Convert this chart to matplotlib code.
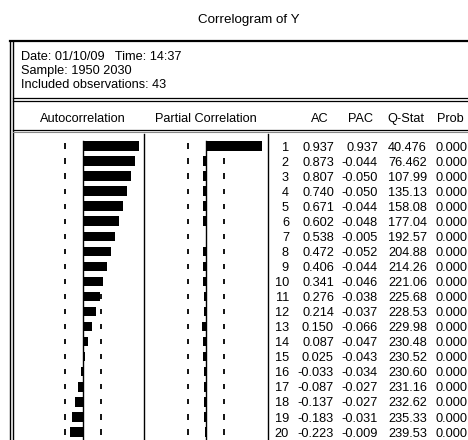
"""
correlogram_y.py

EViews-style correlogram table for series Y: AC / PAC bar columns with
+/- 2 s.e. markers, followed by the AC, PAC, Q-Stat and Prob columns.

Output:
  out.png
"""

import numpy as np
import matplotlib.pyplot as plt

# --- data ----------------------------------------------------------------

LAGS = list(range(1, 21))
AC = [0.937, 0.873, 0.807, 0.740, 0.671, 0.602, 0.538, 0.472, 0.406, 0.341,
      0.276, 0.214, 0.150, 0.087, 0.025, -0.033, -0.087, -0.137, -0.183, -0.223]
PAC = [0.937, -0.044, -0.050, -0.050, -0.044, -0.048, -0.005, -0.052, -0.044, -0.046,
       -0.038, -0.037, -0.066, -0.047, -0.043, -0.034, -0.027, -0.027, -0.031, -0.009]
QSTAT = [40.476, 76.462, 107.99, 135.13, 158.08, 177.04, 192.57, 204.88, 214.26, 221.06,
         225.68, 228.53, 229.98, 230.48, 230.52, 230.60, 231.16, 232.62, 235.33, 239.53]
PROB = [0.000] * 20

N_OBS = 43
HEADER_LINES = [
    "Date: 01/10/09   Time: 14:37",
    "Sample: 1950 2030",
    "Included observations: 43",
]
COLUMNS = ["AC", "PAC", "Q-Stat", "Prob"]

# --- layout (pixel space) -------------------------------------------------

W, H = 468, 440
FONT = "Liberation Sans"
FS = 9.2
ROW0, ROW_STEP = 146.0, 15.05
SCALE = 60.0            # px per unit of correlation
AC_ZERO, PAC_ZERO = 83.0, 206.0
DIV1, DIV2 = 144.0, 268.0
BAR_H = 9.5

# right edges of the numeric columns: lag, AC, PAC, Q-Stat, Prob
COL_X = [289, 334, 378, 427, 467]


def fmt_q(v: float) -> str:
    return f"{v:.3f}" if v < 100 else f"{v:.2f}"


def txt(ax, x, y, s, ha="left", size=FS):
    # y is the vertical centre of the row; shift to baseline by half cap height
    ax.text(x, y + 0.36 * size * 100 / 72, s, ha=ha, va="baseline",
            fontsize=size, family=FONT, color="black")


def main() -> None:
    fig = plt.figure(figsize=(W / 100, H / 100), dpi=100)
    ax = fig.add_axes([0, 0, 1, 1])
    ax.set_xlim(0, W)
    ax.set_ylim(H, 0)
    ax.axis("off")

    txt(ax, 249, 18, "Correlogram of Y", ha="center", size=9.6)

    # frame
    ax.plot([10, W], [41, 41], c="black", lw=1.6)
    ax.plot([10, 10], [41, H], c="black", lw=1.0)
    ax.plot([12.7, 12.7], [41, H], c="black", lw=1.0)
    for yy in (98, 101):
        ax.plot([12.7, W], [yy, yy], c="black", lw=0.9)
    ax.plot([12.7, W], [130, 130], c="black", lw=0.9)
    ax.plot([12.7, W], [132.5, 132.5], c="#888888", lw=0.8)

    for i, line in enumerate(HEADER_LINES):
        txt(ax, 21, 55 + 14.2 * i, line)

    hy = 117
    txt(ax, AC_ZERO, hy, "Autocorrelation", ha="center")
    txt(ax, PAC_ZERO, hy, "Partial Correlation", ha="center")
    txt(ax, 329, hy, COLUMNS[0], ha="right")
    txt(ax, 373, hy, COLUMNS[1], ha="right")
    txt(ax, 424, hy, COLUMNS[2], ha="right")
    txt(ax, 437, hy, COLUMNS[3], ha="left")

    rows = ROW0 + ROW_STEP * (np.array(LAGS) - 1)
    band = 2 / np.sqrt(N_OBS) * SCALE

    # column dividers and zero lines
    ax.plot([DIV1, DIV1], [134, H], c="black", lw=1.0)
    ax.plot([DIV2, DIV2], [134, H], c="black", lw=1.0)
    ax.plot([AC_ZERO, AC_ZERO], [rows[0] - BAR_H / 2, H], c="black", lw=1.0)
    ax.plot([PAC_ZERO, PAC_ZERO], [rows[0] - BAR_H / 2, H], c="black", lw=1.0)

    # +/- 2 s.e. markers, one short tick per row
    for zero in (AC_ZERO, PAC_ZERO):
        for xx in (zero - band, zero + band):
            ax.vlines(np.full(len(rows), xx), rows - 2.6, rows + 2.6,
                      colors="black", lw=1.3, zorder=1)

    ax.barh(rows, np.array(AC) * SCALE, left=AC_ZERO, height=BAR_H,
            color="black", zorder=2)
    ax.barh(rows, np.array(PAC) * SCALE, left=PAC_ZERO, height=BAR_H,
            color="black", zorder=2)

    for y, lag, ac, pac, q, p in zip(rows, LAGS, AC, PAC, QSTAT, PROB):
        cells = [str(lag), f"{ac:.3f}", f"{pac:.3f}", fmt_q(q), f"{p:.3f}"]
        for x, s in zip(COL_X, cells):
            txt(ax, x, y, s, ha="right")

    fig.savefig("out.png", dpi=100, facecolor="white")
    plt.close(fig)


if __name__ == "__main__":
    main()
